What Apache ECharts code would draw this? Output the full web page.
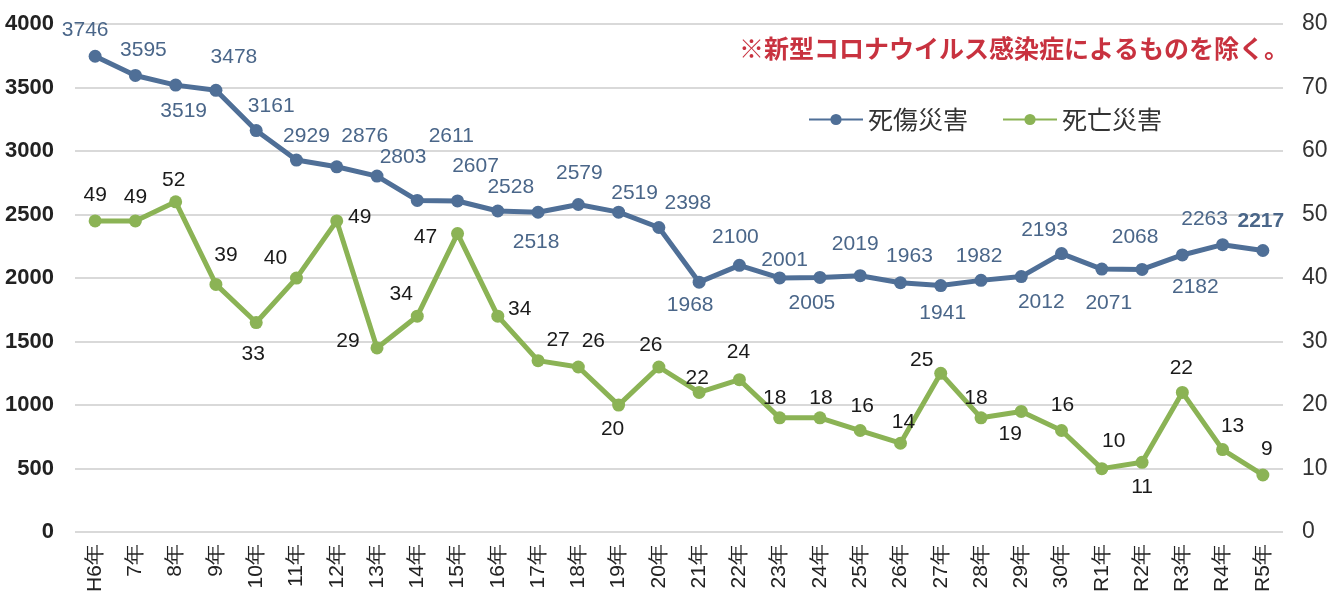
<!DOCTYPE html>
<html>
<head>
<meta charset="utf-8">
<script src="https://cdn.jsdelivr.net/npm/echarts@6/dist/echarts.min.js"></script>
<style>
  html, body { margin: 0; padding: 0; background: #fff; }
  #main { width: 1338px; height: 595px; }
</style>
</head>
<body>
<div id="main"></div>
<script>
// 年度
var years = ['H6年', '7年', '8年', '9年', '10年', '11年', '12年', '13年', '14年', '15年',
  '16年', '17年', '18年', '19年', '20年', '21年', '22年', '23年', '24年', '25年',
  '26年', '27年', '28年', '29年', '30年', 'R1年', 'R2年', 'R3年', 'R4年', 'R5年'];
// 死傷災害（左軸）
var woundedCases = [3746, 3595, 3519, 3478, 3161, 2929, 2876, 2803, 2611, 2607,
  2528, 2518, 2579, 2519, 2398, 1968, 2100, 2001, 2005, 2019,
  1963, 1941, 1982, 2012, 2193, 2071, 2068, 2182, 2263, 2217];
// 死亡災害（右軸）
var deathCases = [49, 49, 52, 39, 33, 40, 49, 29, 34, 47,
  34, 27, 26, 20, 26, 22, 24, 18, 18, 16,
  14, 25, 18, 19, 16, 10, 11, 22, 13, 9];
var leftTicks = { min: 0, max: 4000, interval: 500 };
var rightTicks = { min: 0, max: 80, interval: 10 };

// ラベルの位置（点からのずれ）
var woundedLabelOffset = [[-10,-26],[8,-25],[8,26],[18,-33],[15,-24],[10,-24],[28,-31],[26,-19],[34,-64],[18,-35],
  [13,-24],[-2,30],[1,-31],[16,-19],[29,-24],[-9,23],[-4,-28],[5,-18],[-8,26],[-5,-31],
  [9,-27],[2,28],[-2,-24],[20,26],[-17,-23],[7,34],[-7,-32],[13,32],[-18,-25],[-2,-29]];
var deathLabelOffset = [[0,-26],[0,-24],[-2,-22],[10,-29],[-3,32],[-21,-20],[23,-4],[-29,-7],[-16,-22],[-32,4],
  [22,-7],[20,-20],[15,-26],[-6,24],[-8,-22],[-2,-14],[-1,-28],[-5,-20],[1,-20],[2,-24],
  [3,-21],[-19,-13],[-5,-20],[-11,23],[1,-25],[12,-27],[0,25],[-1,-24],[10,-23],[4,-26]];

var numFont = "'Liberation Sans', Arial, sans-serif";
var jpFont = "'Noto Sans CJK JP', sans-serif";

function withLabels(values, offsets) {
  return values.map(function (v, i) {
    var lab = { position: 'inside', offset: offsets[i] };
    return { value: v, label: lab };
  });
}

var woundedData = withLabels(woundedCases, woundedLabelOffset);
// 最新年のラベルは太字
woundedData[woundedData.length - 1].label.fontWeight = 'bold';

var chart = echarts.init(document.getElementById('main'));
chart.setOption({
  backgroundColor: '#ffffff',
  animation: false,
  title: {
    text: '※新型コロナウイルス感染症によるものを除く。',
    right: 44,
    top: 31,
    textStyle: { color: '#c8323f', fontSize: 25, fontWeight: 'bold', fontFamily: jpFont }
  },
  legend: {
    left: 803,
    top: 102,
    itemWidth: 54,
    itemHeight: 14,
    itemGap: 34,
    textStyle: { fontSize: 25, color: '#333', fontFamily: jpFont },
    data: ['死傷災害', '死亡災害']
  },
  grid: { left: 75, right: 55, top: 24, bottom: 60 },
  xAxis: {
    type: 'category',
    data: years,
    axisTick: { show: false },
    axisLine: { show: false },
    axisLabel: {
      rotate: 90,
      interval: 0,
      margin: 12,
      fontSize: 21,
      color: '#222',
      fontFamily: numFont
    }
  },
  yAxis: [
    {
      type: 'value',
      min: leftTicks.min,
      max: leftTicks.max,
      interval: leftTicks.interval,
      axisLine: { show: false },
      axisTick: { show: false },
      axisLabel: {
        fontSize: 22, fontWeight: 'bold', color: '#222', margin: 21, fontFamily: numFont,
        formatter: function (v) { return String(v); }
      },
      splitLine: { lineStyle: { color: '#d9d9d9', width: 2 } }
    },
    {
      type: 'value',
      min: rightTicks.min,
      max: rightTicks.max,
      interval: rightTicks.interval,
      axisLine: { show: false },
      axisTick: { show: false },
      axisLabel: { fontSize: 23, color: '#333', margin: 19, fontFamily: numFont },
      splitLine: { show: false }
    }
  ],
  series: [
    {
      name: '死傷災害',
      type: 'line',
      yAxisIndex: 0,
      symbol: 'circle',
      symbolSize: 13,
      lineStyle: { width: 5, color: '#4f6f97' },
      itemStyle: { color: '#4f6f97' },
      label: { show: true, fontSize: 21, color: '#4a6689', fontFamily: numFont },
      data: woundedData
    },
    {
      name: '死亡災害',
      type: 'line',
      yAxisIndex: 1,
      symbol: 'circle',
      symbolSize: 13,
      lineStyle: { width: 5, color: '#8bb355' },
      itemStyle: { color: '#8bb355' },
      label: { show: true, fontSize: 21, color: '#1a1a1a', fontFamily: numFont },
      data: withLabels(deathCases, deathLabelOffset)
    }
  ]
});
</script>
</body>
</html>
